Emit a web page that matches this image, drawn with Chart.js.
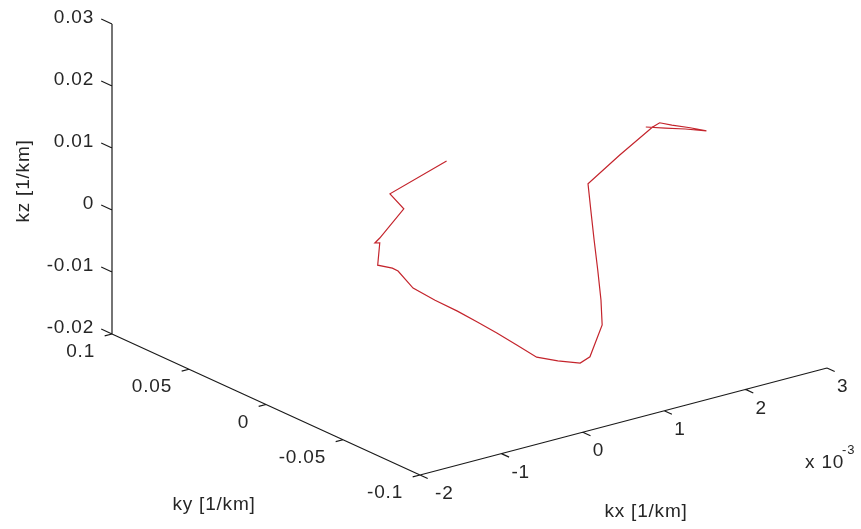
<!DOCTYPE html>
<html>
<head>
<meta charset="utf-8">
<script src="https://cdn.jsdelivr.net/npm/chart.js@4/dist/chart.umd.min.js"></script>
<style>
html,body{margin:0;padding:0;background:#ffffff;}
#wrap{width:861px;height:529px;position:relative;}
</style>
</head>
<body>
<div id="wrap"><canvas id="c" width="861" height="529"></canvas></div>
<script>
// ---- axis ticks ----
const kxTicks = [-2, -1, 0, 1, 2, 3];          // units of 10^-3 1/km
const kyTicks = [0.1, 0.05, 0, -0.05, -0.1];
const kzTicks = [0.03, 0.02, 0.01, 0, -0.01, -0.02];
const kxTickLabels = ['-2', '-1', '0', '1', '2', '3'];
const kyTickLabels = ['0.1', '0.05', '0', '-0.05', '-0.1'];
const kzTickLabels = ['0.03', '0.02', '0.01', '0', '-0.01', '-0.02'];

// ---- trajectory (kx in 10^-3 1/km, ky and kz in 1/km) ----
const kx = [-0.16, -0.95, -0.78, -1.17, -1.23, -1.17, -1.29, -1.11, -1.04, -0.95,
            -0.68, -0.50, -0.35, -0.11, 0.04, 0.19, 0.45, 0.63, 0.75, 0.90,
            0.98, 0.94, 0.99, 0.95, 1.01, 1.40, 1.80, 1.89, 2.04, 2.17,
            2.37, 2.11, 1.96, 1.72];
const ky = [-0.020, -0.025, -0.025, -0.030, -0.030, -0.030, -0.035, -0.035, -0.035, -0.040,
            -0.040, -0.045, -0.050, -0.050, -0.055, -0.060, -0.060, -0.065, -0.065, -0.065,
            -0.060, -0.060, -0.055, -0.055, -0.050, -0.050, -0.050, -0.050, -0.050, -0.055,
            -0.055, -0.055, -0.050, -0.050];
const kz = [0.0152, 0.0132, 0.0102, 0.0074, 0.0068, 0.0066, 0.0040, 0.0029, 0.0022, -0.0003,
            -0.0032, -0.0050, -0.0067, -0.0093, -0.0112, -0.0131, -0.0146, -0.0150, -0.0144, -0.0098,
            -0.0066, -0.0016, 0.0025, 0.0074, 0.0109, 0.0142, 0.0173, 0.0177, 0.0168, 0.0165,
            0.0153, 0.0165, 0.0166, 0.0176];

// ---- 3D view (layout only) ----
const lim = {x: [-2, 3], y: [-0.1, 0.1], z: [-0.02, 0.03]};
const view = {
  ox: 112, oy: 334,           // corner (kx min, ky max, kz min)
  xv: [81.4, -21.4],          // per kx unit
  yv: [-1540, -705],          // per ky unit (increasing ky)
  zv: [0, -6200]              // per kz unit
};
function proj(a, b, c) {
  const da = a - lim.x[0], db = b - lim.y[1], dc = c - lim.z[0];
  return {
    x: view.ox + da * view.xv[0] + db * view.yv[0] + dc * view.zv[0],
    y: view.oy + da * view.xv[1] + db * view.yv[1] + dc * view.zv[1]
  };
}

const curve = kx.map((v, i) => proj(v, ky[i], kz[i]));

const FONT = '19px "Liberation Sans", Arial, sans-serif';
const TXT = '#262626';

const axes3d = {
  id: 'axes3d',
  beforeDatasetsDraw(chart) {
    const ctx = chart.ctx, sx = chart.scales.x, sy = chart.scales.y;
    const P = (p) => [sx.getPixelForValue(p.x), sy.getPixelForValue(p.y)];
    const seg = (p, q) => { const a = P(p), b = P(q); ctx.moveTo(a[0], a[1]); ctx.lineTo(b[0], b[1]); };
    ctx.save();
    ctx.strokeStyle = '#1a1a1a';
    ctx.lineWidth = 1.2;
    ctx.beginPath();
    seg(proj(lim.x[0], lim.y[1], lim.z[0]), proj(lim.x[0], lim.y[1], lim.z[1]));
    seg(proj(lim.x[0], lim.y[1], lim.z[0]), proj(lim.x[0], lim.y[0], lim.z[0]));
    seg(proj(lim.x[0], lim.y[0], lim.z[0]), proj(lim.x[1], lim.y[0], lim.z[0]));
    kzTicks.forEach(t => seg(proj(lim.x[0], lim.y[1], t), proj(lim.x[0], lim.y[1] + 0.007, t)));
    kyTicks.forEach(t => seg(proj(lim.x[0], t, lim.z[0]), proj(lim.x[0] - 0.09, t, lim.z[0])));
    kxTicks.forEach(t => seg(proj(t, lim.y[0], lim.z[0]), proj(t, lim.y[0] - 0.005, lim.z[0])));
    ctx.stroke();

    ctx.fillStyle = TXT;
    ctx.font = FONT;
    try { ctx.letterSpacing = '0.8px'; } catch (e) {}
    ctx.textBaseline = 'middle';
    ctx.textAlign = 'right';
    kzTicks.forEach((t, i) => {
      const a = P(proj(lim.x[0], lim.y[1], t));
      ctx.fillText(kzTickLabels[i], a[0] - 18, a[1] - 6);
    });
    kyTicks.forEach((t, i) => {
      const a = P(proj(lim.x[0], t, lim.z[0]));
      ctx.fillText(kyTickLabels[i], a[0] - 17, a[1] + 18);
    });
    ctx.textAlign = 'left';
    kxTicks.forEach((t, i) => {
      const a = P(proj(t, lim.y[0], lim.z[0]));
      ctx.fillText(kxTickLabels[i], a[0] + (i === 0 ? 15 : 10), a[1] + 19);
    });

    ctx.textAlign = 'center';
    ctx.fillText('kx [1/km]', 646, 512);
    ctx.fillText('ky [1/km]', 214, 505);
    ctx.save();
    ctx.translate(24, 181);
    ctx.rotate(-Math.PI / 2);
    ctx.fillText('kz [1/km]', 0, 0);
    ctx.restore();

    ctx.textAlign = 'left';
    ctx.fillText('x 10', 805, 463);
    ctx.font = '13px "Liberation Sans", Arial, sans-serif';
    ctx.fillText('-3', 842, 450);
    ctx.restore();
  }
};

new Chart(document.getElementById('c'), {
  type: 'scatter',
  data: {
    datasets: [{
      label: 'k trajectory',
      data: curve,
      showLine: true,
      borderColor: 'rgb(196,36,44)',
      backgroundColor: 'rgb(196,36,44)',
      borderWidth: 1.2,
      pointRadius: 0,
      tension: 0,
      clip: false
    }]
  },
  options: {
    responsive: false,
    devicePixelRatio: 1,
    animation: false,
    layout: {padding: 0},
    plugins: {legend: {display: false}, tooltip: {enabled: false}},
    scales: {
      x: {type: 'linear', min: 0, max: 861, display: false},
      y: {type: 'linear', min: 0, max: 529, reverse: true, display: false}
    }
  },
  plugins: [axes3d]
});
</script>
</body>
</html>
